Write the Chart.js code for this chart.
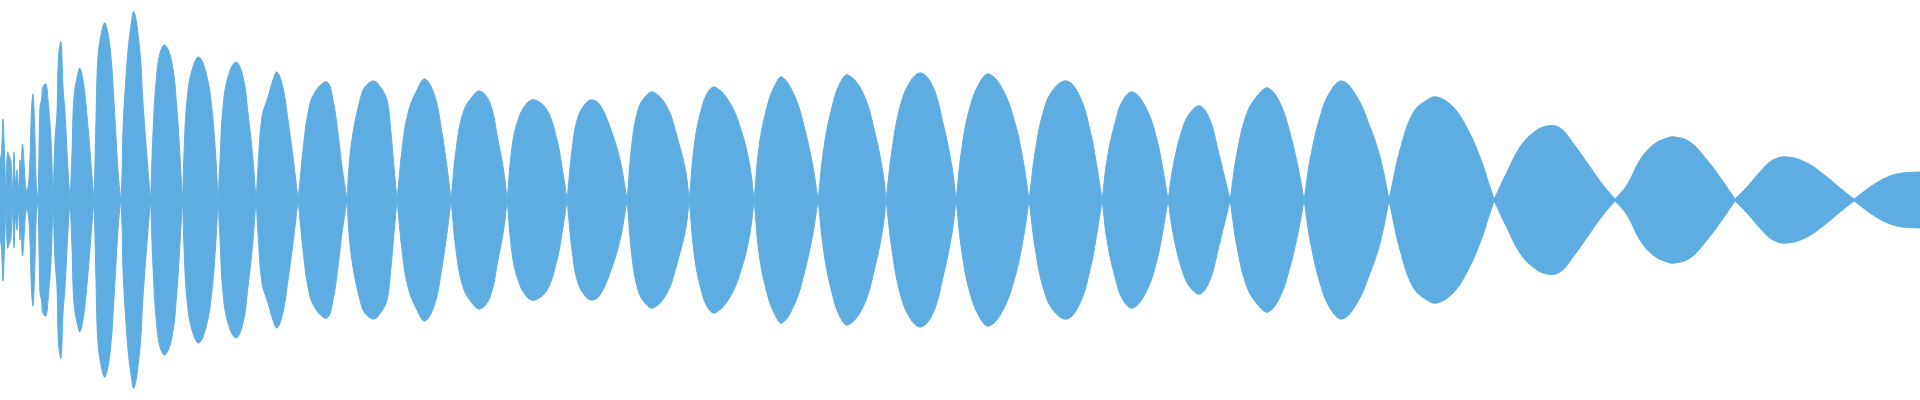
<!DOCTYPE html>
<html>
<head>
<meta charset="utf-8">
<script src="https://cdn.jsdelivr.net/npm/chart.js@4/dist/chart.umd.min.js"></script>
<style>
  html, body { margin: 0; padding: 0; background: #fff; }
  #wrap { width: 1920px; height: 400px; }
</style>
</head>
<body>
<div id="wrap"><canvas id="chart"></canvas></div>
<script>
// 波形のサンプル位置（ゼロ交差は2点で尖らせる）
const sampleX = [
  0, 1.5, 3, 4.5, 6, 7.5, 9.5, 11, 12.5, 14, 15.5, 17, 18.5, 20, 21, 22.5, 24.5, 26, 27.5, 29.5,
  31.5, 33, 34.5, 36.5, 38, 38.2,
  39, 40, 41.5, 43, 46, 48, 51, 53, 53.2,
  55, 57, 58.5, 61, 63, 65, 68, 70, 70.2,
  72, 74, 78, 80, 84, 88, 92, 94, 94.2,
  96, 98, 102, 105, 110, 114, 118, 120.5, 120.7,
  122, 123, 127, 130, 134, 140, 143, 148, 150.5, 150.7,
  153, 156, 160, 165, 172, 177, 180, 182.5, 182.7,
  184, 187, 192, 199, 207, 212, 216, 218, 218.2,
  220, 223, 228, 236, 243, 248, 253, 256, 256.2,
  258, 262, 268, 273, 277, 283, 288, 293, 298, 298.2,
  301, 303, 308, 315, 327, 333, 338, 342, 347, 347.2,
  349, 353, 360, 365, 374, 381, 387, 391, 394, 397, 397.2,
  402, 408, 417, 425, 435, 442, 447, 451, 451.2,
  456, 463, 472, 480, 490, 498, 504, 507, 507.2,
  512, 518, 527, 535, 547, 557, 563, 567, 567.2,
  572, 578, 587, 593, 600, 610, 620, 627, 627.2,
  632, 638, 645, 653, 667, 678, 686, 689, 689.2,
  695, 702, 708, 715, 730, 742, 750, 754, 754.2,
  759, 767, 775, 782, 795, 805, 813, 818, 818.2,
  824, 832, 840, 848, 863, 875, 883, 886, 886.2,
  892, 900, 910, 921, 933, 943, 952, 956, 956.2,
  962, 970, 980, 989, 1003, 1015, 1023, 1029, 1029.2,
  1035, 1043, 1053, 1067, 1080, 1090, 1097, 1102, 1102.2,
  1107, 1115, 1123, 1133, 1147, 1157, 1163, 1168, 1168.2,
  1173, 1182, 1190, 1200, 1210, 1218, 1227, 1230, 1230.2,
  1237, 1247, 1258, 1268, 1280, 1290, 1298, 1304, 1304.2,
  1310, 1320, 1330, 1342, 1357, 1370, 1380, 1389, 1389.2,
  1400, 1413, 1427, 1437, 1453, 1467, 1480, 1490, 1494, 1494.2,
  1507, 1520, 1533, 1547, 1560, 1573, 1590, 1603, 1615, 1615.2,
  1627, 1640, 1653, 1667, 1675, 1690, 1707, 1722, 1735, 1735.2,
  1747, 1760, 1773, 1788, 1807, 1827, 1840, 1854, 1854.2,
  1873, 1890, 1903, 1920,
];

// 振幅（上下対称）
const amplitude = [
  38, 48, 81, 48, 10, 48, 43, 38, 7, 48, 17, 30, 10, 40, 33, 56, 30, 10, 10, 30,
  90, 106, 77, 10, 4, 4,
  47, 93, 100, 113, 116, 100, 60, 3, 3,
  60, 87, 143, 158, 113, 87, 30, 1, 1,
  47, 103, 127, 132, 113, 73, 23, 1, 1,
  80, 143, 170, 177, 153, 97, 30, 1, 1,
  23, 70, 137, 167, 188, 147, 97, 30, 1, 1,
  67, 117, 147, 155, 137, 90, 43, 1, 1,
  47, 100, 130, 143, 123, 90, 40, 1, 1,
  40, 93, 123, 138, 123, 87, 40, 1, 1,
  33, 83, 103, 120, 128, 112, 80, 43, 1, 1,
  30, 50, 87, 108, 118, 100, 67, 33, 1, 1,
  33, 67, 100, 113, 119, 112, 100, 67, 33, 1, 1,
  50, 87, 110, 121, 103, 67, 33, 1, 1,
  50, 87, 103, 109, 97, 60, 27, 1, 1,
  53, 80, 97, 100, 90, 60, 27, 1, 1,
  50, 83, 98, 100, 95, 73, 40, 1, 1,
  57, 90, 103, 108, 93, 60, 27, 1, 1,
  60, 93, 108, 113, 97, 67, 33, 1, 1,
  53, 93, 115, 123, 103, 70, 33, 1, 1,
  53, 93, 117, 125, 107, 67, 27, 1, 1,
  50, 93, 118, 127, 113, 77, 33, 1, 1,
  53, 93, 118, 126, 110, 77, 40, 1, 1,
  47, 87, 110, 119, 103, 70, 33, 1, 1,
  40, 77, 100, 108, 90, 60, 30, 1, 1,
  33, 70, 87, 94, 80, 50, 13, 1, 1,
  47, 87, 105, 112, 97, 67, 33, 1, 1,
  40, 83, 108, 119, 103, 73, 43, 1, 1,
  50, 87, 100, 103, 93, 72, 43, 13, 1, 1,
  28, 53, 67, 74, 72, 57, 33, 15, 1, 1,
  15, 40, 55, 62, 63, 58, 40, 20, 1, 1,
  13, 28, 40, 43, 37, 23, 12, 1, 1,
  15, 24, 27, 28,
];

const waveColor = "#5dade2";

// 上側と下側の点を作る
const upper = sampleX.map((x, i) => ({ x: x, y: amplitude[i] }));
const lower = sampleX.map((x, i) => ({ x: x, y: -amplitude[i] }));

new Chart(document.getElementById("chart"), {
  type: "line",
  data: {
    datasets: [
      {
        label: "upper",
        data: upper,
        borderColor: waveColor,
        backgroundColor: waveColor,
        borderWidth: 1,
        pointRadius: 0,
        tension: 0.4,
        fill: "+1",
      },
      {
        label: "lower",
        data: lower,
        borderColor: waveColor,
        backgroundColor: waveColor,
        borderWidth: 1,
        pointRadius: 0,
        tension: 0.4,
        fill: false,
      },
    ],
  },
  options: {
    responsive: true,
    maintainAspectRatio: false,
    animation: false,
    layout: { padding: 0 },
    plugins: {
      legend: { display: false },
      tooltip: { enabled: false },
    },
    scales: {
      x: { type: "linear", min: 0, max: 1920, display: false },
      y: { min: -200, max: 200, display: false },
    },
  },
});
</script>
</body>
</html>
